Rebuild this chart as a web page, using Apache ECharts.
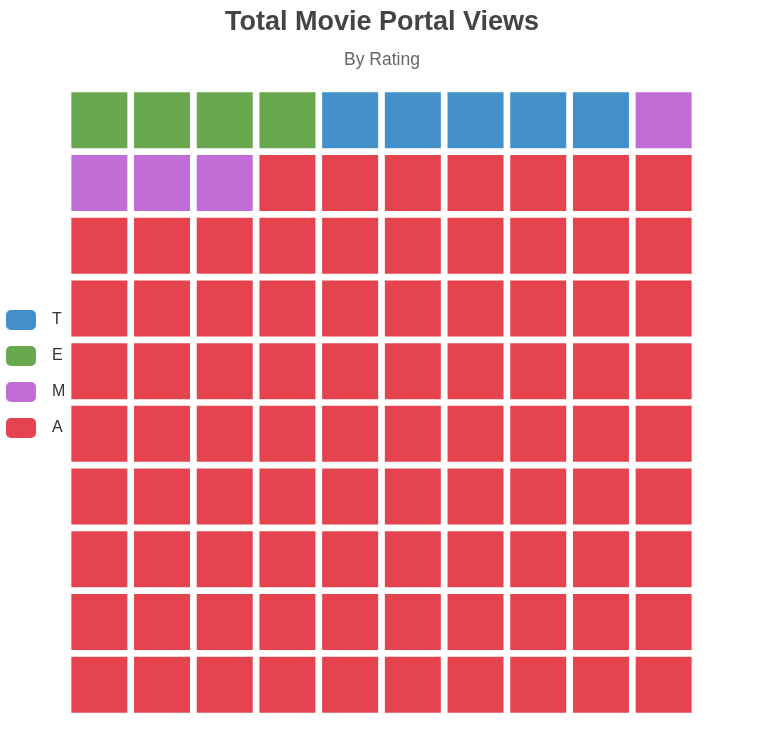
<!DOCTYPE html>
<html><head><meta charset="utf-8">
<script src="https://cdn.jsdelivr.net/npm/echarts@6/dist/echarts.min.js"></script>
<style>html,body{margin:0;padding:0;background:#fff}#c{width:764px;height:746px}</style>
</head><body><div id="c"></div>
<script>
const fillOrder = ['E', 'T', 'M', 'A'];
const counts = [4, 5, 4, 87];
const legendOrder = ['T', 'E', 'M', 'A'];
const colors = { T: '#4490ca', E: '#69a84f', M: '#c06ed6', A: '#e5444f' };
const cols = ['0','1','2','3','4','5','6','7','8','9'];
const rows = ['0','1','2','3','4','5','6','7','8','9'];

let idx = 0;
const seriesData = {};
fillOrder.forEach((name, i) => {
  seriesData[name] = [];
  for (let k = 0; k < counts[i]; k++) {
    seriesData[name].push([idx % 10, Math.floor(idx / 10)]);
    idx++;
  }
});

const chart = echarts.init(document.getElementById('c'));
chart.setOption({
  animation: false,
  textStyle: { fontFamily: 'Liberation Sans, Arial, sans-serif' },
  title: {
    text: 'Total Movie Portal Views',
    subtext: 'By Rating',
    left: 'center',
    top: 4,
    itemGap: 15,
    textStyle: { fontSize: 27, fontWeight: 'bold', color: '#444' },
    subtextStyle: { fontSize: 17.5, color: '#666' }
  },
  legend: {
    orient: 'vertical',
    left: 1,
    top: 305,
    itemWidth: 30,
    itemHeight: 20,
    itemGap: 16,
    icon: 'roundRect',
    data: legendOrder,
    textStyle: { fontSize: 16, color: '#333', padding: [0, 0, 0, 11] }
  },
  grid: { left: 68, right: 69, top: 89, bottom: 30 },
  xAxis: { type: 'category', data: cols, show: false },
  yAxis: { type: 'category', data: rows, inverse: true, show: false },
  series: fillOrder.map(name => ({
    name,
    type: 'scatter',
    symbol: 'rect',
    symbolSize: 56,
    data: seriesData[name],
    itemStyle: { color: colors[name], opacity: 1 }
  }))
});
</script></body></html>
